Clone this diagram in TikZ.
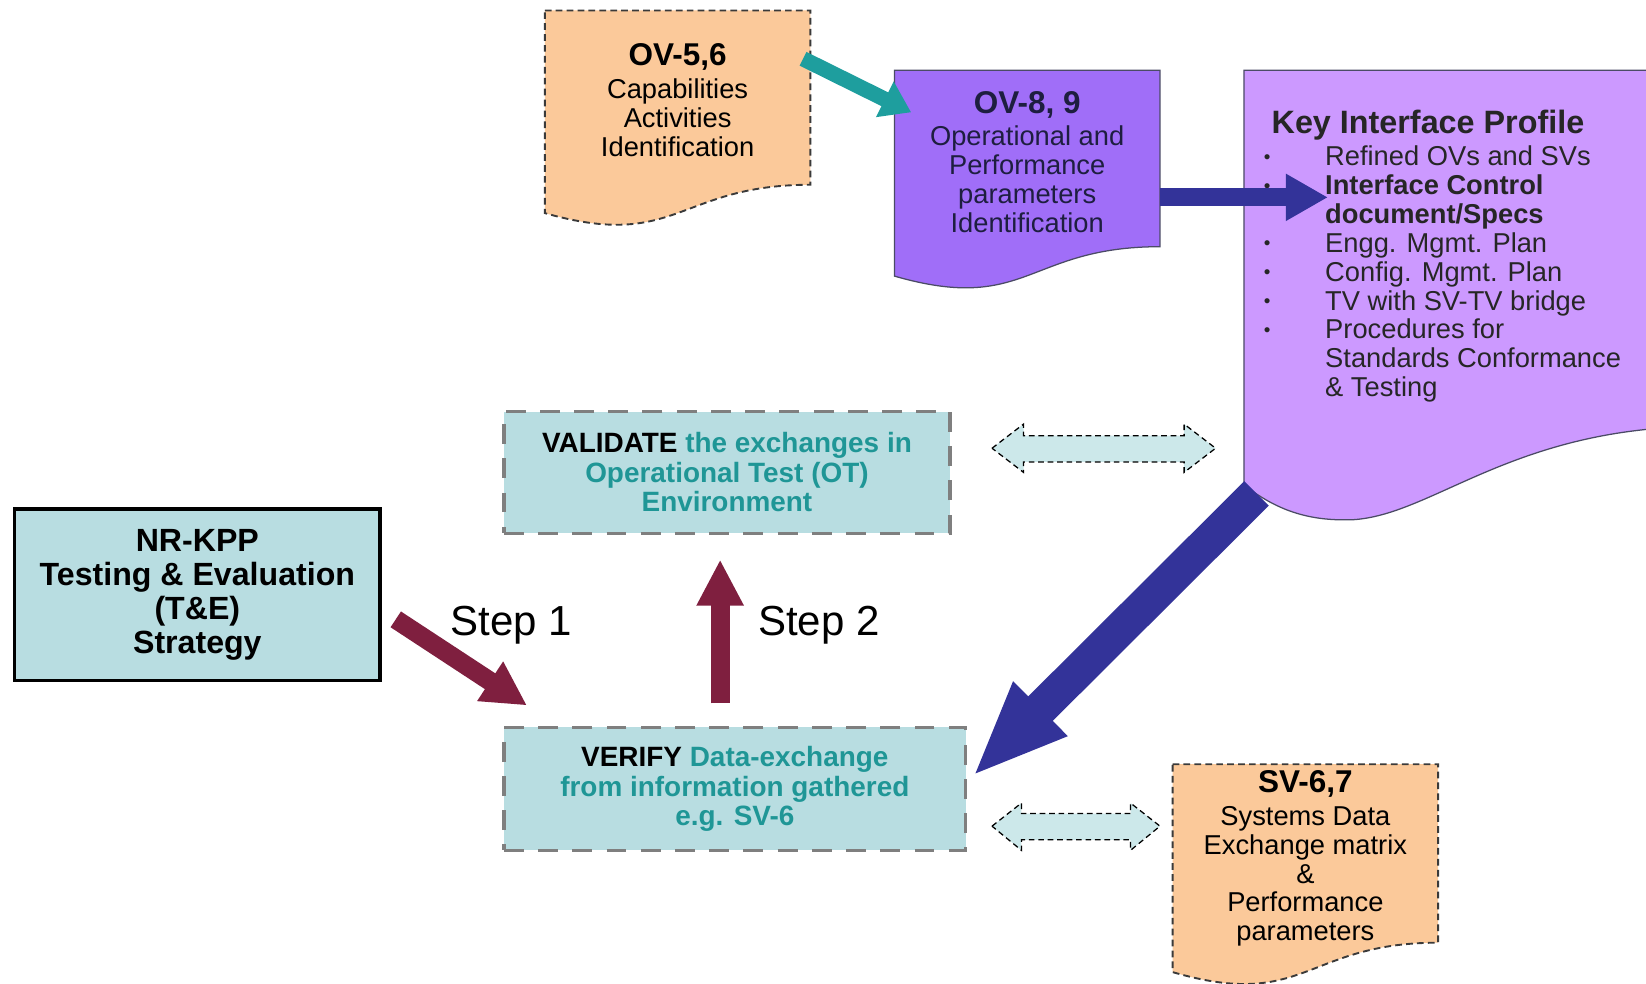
\documentclass[tikz,border=0pt]{standalone}
\usepackage{fontspec}
\setmainfont{Liberation Sans}
\usepackage{xcolor}
\usetikzlibrary{arrows.meta}

\definecolor{peach}{HTML}{FBC99A}
\definecolor{ovpurple}{HTML}{A06EF8}
\definecolor{kippurple}{HTML}{CC99FF}
\definecolor{paleteal}{HTML}{B8DDE1}
\definecolor{xchfill}{HTML}{CCE8EA}
\definecolor{arrowteal}{HTML}{1E9E9E}
\definecolor{tealtext}{HTML}{1F9696}
\definecolor{navy}{HTML}{333399}
\definecolor{maroon}{HTML}{7F1F3F}
\definecolor{dashgray}{HTML}{7F7F7F}
\definecolor{edgegray}{HTML}{3A3A3A}
\definecolor{inkblue}{HTML}{1E1E40}

\newcommand{\viewtitle}[1]{{\fontsize{15}{16}\selectfont\bfseries #1}}
\newcommand{\kipbullet}{\makebox[30pt][l]{\hspace{0.8pt}\raisebox{1pt}{\fontsize{9}{9}\selectfont\textbullet}}}
\newcommand{\kipindent}{\hspace*{30pt}}

\tikzset{
  viewdoc/.style={fill=peach, draw=edgegray, line width=0.9pt, dash pattern=on 3.2pt off 2pt},
  doctext/.style={anchor=north, inner sep=0, align=center, font=\fontsize{13}{13.8}\selectfont},
  testbox/.style={rectangle, fill=paleteal, draw=dashgray, line width=1.6pt,
    dash pattern=on 9.5pt off 6.8pt, inner sep=0, align=center, text=tealtext,
    font=\fontsize{13.3}{14}\selectfont\bfseries},
  exchange/.style={fill=xchfill, draw=black, line width=0.6pt, dash pattern=on 2.7pt off 1.8pt},
  steplabel/.style={inner sep=0, font=\fontsize{20}{24}\selectfont}
}

\begin{document}
\begin{tikzpicture}[x=0.5pt, y=-0.5pt]

\clip (0,0) rectangle (1568,937);
\fill[white] (0,0) rectangle (1568,937);

% ---------- OV-5,6 ----------
\filldraw[viewdoc] (519,10) -- (772,10) -- (772,176) .. controls (645.5,176) and (645.5,239) .. (519,203) -- cycle;
\node[doctext] (ov56) at (645.5,41) {\viewtitle{OV-5,6}\\[2pt] Capabilities\\ Activities\\ Identification};

% ---------- OV-8,9 ----------
\filldraw[fill=ovpurple, draw=inkblue!80, line width=0.6pt] (852,67) -- (1105,67) -- (1105,235) .. controls (978.5,235) and (978.5,299.5) .. (852,263) -- cycle;
\node[doctext, text=inkblue] (ov89) at (978.5,87) {\viewtitle{OV-8, 9}\\[1.2pt] Operational and\\ Performance\\ parameters\\ Identification};

% ---------- Key Interface Profile ----------
\filldraw[fill=kippurple, draw=inkblue!80, line width=0.6pt] (1185,67) -- (1580,67) -- (1580,408) .. controls (1430,420) and (1360,490) .. (1290,495) .. controls (1245,497) and (1215,485) .. (1185,462) -- cycle;
\node[anchor=north west, inner sep=0, align=left, text=black!85, font=\fontsize{13}{13.8}\selectfont] (kip) at (1202,104) {
    \hspace*{4.5pt}{\fontsize{15.4}{16}\selectfont\bfseries Key Interface Profile}\\[1.5pt]
    \kipbullet Refined OVs and SVs\\
    \kipbullet\textbf{Interface Control}\\
    \kipindent\textbf{document/Specs}\\
    \kipbullet Engg. Mgmt. Plan\\
    \kipbullet Config. Mgmt. Plan\\
    \kipbullet TV with SV-TV bridge\\
    \kipbullet Procedures for\\
    \kipindent Standards Conformance\\
    \kipindent\& Testing};

% ---------- SV-6,7 ----------
\filldraw[viewdoc] (1117,728) -- (1370,728) -- (1370,898) .. controls (1243.5,898) and (1243.5,963) .. (1117,926) -- cycle;
\node[doctext] (sv67) at (1243.5,734) {\viewtitle{SV-6,7}\\[1.5pt] Systems Data\\ Exchange matrix\\ \&\\ Performance\\ parameters};

% ---------- Test boxes ----------
\node[rectangle, draw=black, line width=1.6pt, fill=paleteal, minimum width=174pt, minimum height=81.5pt,
      inner sep=0, align=center, font=\fontsize{15.3}{16.2}\selectfont\bfseries] (nrkpp) at (188,566.5)
      {NR-KPP\\ Testing \& Evaluation\\ (T\&E)\\ Strategy};
\node[testbox, minimum width=212.5pt, minimum height=58pt] (validate) at (692.5,450)
      {\textcolor{black}{VALIDATE} the exchanges in\\ Operational Test (OT)\\ Environment};
\node[testbox, minimum width=220pt, minimum height=58.5pt] (verify) at (700,751.5)
      {\textcolor{black}{VERIFY} Data-exchange\\ from information gathered\\ e.g. SV-6};

% Step labels
\node[steplabel] (step1) at (487,596) {Step 1};
\node[steplabel] (step2) at (780,596) {Step 2};

% Arrow ends
\coordinate (ov56out) at (765,56);
\coordinate (ov89in) at (868,107);
\coordinate (ov89out) at (1105,188);
\coordinate (kipin) at (1265,188);
\coordinate (kipout) at (1197,470);
\coordinate (verifyin) at (926,740);
\coordinate (nrkppout) at (377,590);
\coordinate (step1end) at (502,672);
\coordinate (verifyout) at (686,670);
\coordinate (validatein) at (686,533);

% Block arrows
\draw[arrowteal, line width=7.3pt, -{Triangle[length=14pt, width=18pt]}] (ov56out) -- (ov89in);
\draw[navy, line width=8.5pt, -{Triangle[length=20pt, width=21pt]}] (ov89out) -- (kipin);
\draw[navy, line width=16.5pt, -{Triangle[length=46pt, width=33pt]}] (kipout) -- (verifyin);
\draw[maroon, line width=9pt, -{Triangle[length=21pt, width=21pt]}] (nrkppout) -- (step1end);
\draw[maroon, line width=9pt, -{Triangle[length=22pt, width=21pt]}] (verifyout) -- (validatein);

% Exchange arrows
\filldraw[exchange] (945,427) -- (975,404) -- (975,415) -- (1128,415) -- (1128,404) -- (1158,427)
  -- (1128,450) -- (1128,440) -- (975,440) -- (975,450) -- cycle;
\filldraw[exchange] (945,787) -- (973,765) -- (973,775) -- (1077,775) -- (1077,765) -- (1105,787)
  -- (1077,810) -- (1077,800) -- (973,800) -- (973,810) -- cycle;

\end{tikzpicture}
\end{document}
